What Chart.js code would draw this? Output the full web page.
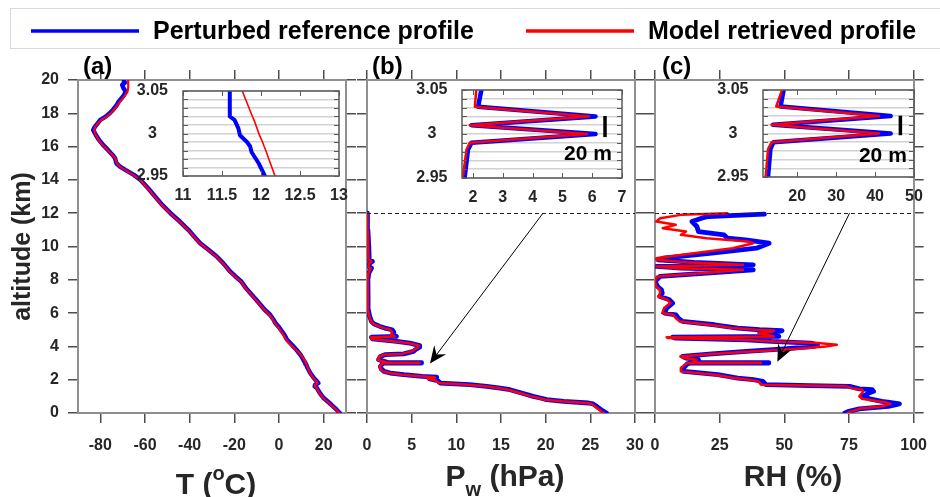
<!DOCTYPE html>
<html><head><meta charset="utf-8">
<script src="https://cdn.jsdelivr.net/npm/chart.js@4.4.1/dist/chart.umd.min.js"></script>
<style>
html,body{margin:0;padding:0;background:#fff;}
#wrap{position:relative;width:940px;height:497px;overflow:hidden;background:#fff;}
#wrap canvas{position:absolute;left:0;top:0;}
</style></head><body>
<div id="wrap">
<canvas id="ca" width="940" height="497"></canvas>
<canvas id="cb" width="940" height="497"></canvas>
<canvas id="cc" width="940" height="497"></canvas>
<canvas id="ia" width="940" height="497"></canvas>
<canvas id="ib" width="940" height="497"></canvas>
<canvas id="ic" width="940" height="497"></canvas>
</div>
<script>
// ---------------- data ----------------
const seriesNames = ['Perturbed reference profile', 'Model retrieved profile'];
const altTicks = [0,2,4,6,8,10,12,14,16,18,20];
const tTicks = [-80,-60,-40,-20,0,20];
const pwTicks = [0,5,10,15,20,25,30];
const rhTicks = [0,25,50,75,100];
const insetAltTicks = [2.95,2.96,2.97,2.98,2.99,3.00,3.01,3.02,3.03,3.04,3.05];
const insetAltLabels = ['2.95','3','3.05'];
const insetTTicks = [11,11.5,12,12.5,13];
const insetPwTicks = [2,3,4,5,6,7];
const insetRhTicks = [20,30,40,50];

// temperature (panel a)
const altT = [0,0.2,0.4,0.6,0.9,1.2,1.5,1.6,1.7,1.8,1.9,2.1,2.4,2.7,2.95,2.965,2.978,2.985,2.99,2.998,3.006,3.016,3.02,3.05,3.2,3.5,3.8,4.0,4.2,4.4,4.7,5.0,5.2,5.4,5.6,5.9,6.2,6.5,6.8,7.1,7.5,7.9,8.2,8.5,9.0,9.4,9.8,10.2,10.6,11.0,11.5,12.0,12.5,13.0,13.5,14.0,14.3,14.6,14.8,15.0,15.3,15.5,15.8,16.1,16.4,16.7,17.0,17.2,17.4,17.6,17.8,18.0,18.2,18.5,18.7,18.9,19.1,19.3,19.5,19.7,19.85,20.0];
const tRef = [27.2,25.8,24.2,22.6,20.0,18.3,17.0,16.0,16.2,17.6,17.0,15.6,14.0,12.8,12.05,11.97,11.88,11.86,11.82,11.73,11.71,11.66,11.6,11.6,10.9,9.6,7.8,6.4,5.0,3.6,2.4,0.8,-0.3,-1.6,-2.4,-4.0,-6.4,-8.3,-10.2,-12.2,-14.8,-16.9,-19.5,-21.9,-25.0,-27.9,-31.6,-35.3,-38.0,-40.6,-44.4,-48.6,-52.3,-55.5,-58.6,-62.0,-65.0,-68.8,-71.2,-72.8,-73.4,-74.5,-76.6,-78.8,-80.6,-82.0,-83.2,-82.4,-81.2,-80.0,-77.6,-75.8,-74.4,-72.6,-71.8,-70.5,-69.4,-68.6,-69.6,-70.2,-69.0,-69.4];
const tRet = [27.0,25.6,24.0,22.4,19.8,18.1,16.9,16.0,16.1,17.3,16.8,15.4,13.9,12.9,12.18,12.12,12.07,12.04,12.02,11.98,11.95,11.91,11.89,11.76,11.2,9.7,7.6,6.0,4.5,3.2,2.0,0.4,-0.6,-1.8,-2.7,-4.3,-6.6,-8.5,-10.4,-12.4,-15.0,-17.1,-19.7,-22.1,-25.2,-28.1,-31.8,-35.5,-38.2,-40.8,-44.6,-48.8,-52.5,-55.7,-58.8,-62.2,-65.3,-69.0,-71.3,-72.6,-73.3,-74.6,-76.8,-79.0,-80.8,-82.0,-82.8,-82.2,-81.0,-79.6,-77.2,-75.4,-74.0,-72.3,-71.2,-70.0,-68.8,-67.8,-67.6,-67.5,-67.5,-67.6];

// water vapour pressure (panel b)
const altPw = [0,0.2,0.4,0.55,0.6,0.7,0.8,0.9,1.0,1.2,1.4,1.5,1.6,1.7,1.8,1.95,2.05,2.15,2.2,2.3,2.4,2.5,2.65,2.8,2.951,2.982,2.99,3.0,3.01,3.02,3.031,3.05,3.2,3.4,3.5,3.55,3.7,3.8,3.95,4.05,4.2,4.3,4.45,4.55,4.6,4.7,4.85,5.0,5.1,5.2,5.35,5.5,5.8,6.2,7.0,8.0,8.4,8.7,8.8,9.0,9.1,9.2,10.0,11.0,12.0];
const pwRef = [26.8,26.2,25.7,25.3,24.8,22.0,20.1,19.4,18.6,17.3,16.0,14.9,13.4,11.5,8.2,7.9,7.0,7.8,6.2,4.1,2.6,1.9,1.6,1.5,1.72,1.83,1.95,6.11,1.95,6.11,2.17,2.28,1.3,1.5,2.0,4.1,5.2,5.4,5.9,5.9,4.8,3.3,0.6,0.5,3.3,2.9,3.0,2.8,2.0,1.45,0.8,0.5,0.3,0.15,0.12,0.1,0.2,0.5,0.2,0.3,0.6,0.25,0.2,0.1,0.05];
const pwRet = [26.5,26.0,25.5,25.1,24.5,21.8,19.9,19.2,18.4,17.1,15.8,14.7,13.2,11.3,8.0,7.7,6.8,7.6,6.0,3.9,2.5,1.8,1.5,1.4,1.66,1.78,1.89,5.83,1.89,5.89,2.06,2.11,1.2,1.4,1.9,3.9,5.0,5.3,5.7,5.8,4.6,3.1,0.5,0.4,3.1,2.7,2.8,2.6,1.9,1.35,0.7,0.45,0.25,0.1,0.1,0.08,0.15,0.4,0.15,0.25,0.5,0.2,0.15,0.08,0.05];

// relative humidity (panel c)
const altRHRef = [0,0.1,0.25,0.4,0.55,0.65,0.7,0.85,1.0,1.2,1.3,1.4,1.45,1.6,1.65,1.7,1.9,2.0,2.1,2.3,2.5,2.7,2.951,2.982,2.99,3.0,3.01,3.02,3.031,3.05,3.1,3.2,3.3,3.4,3.55,3.7,3.85,4.0,4.1,4.2,4.3,4.4,4.5,4.55,4.6,4.7,4.8,4.9,4.95,5.0,5.1,5.3,5.5,5.7,5.9,6.0,6.3,6.6,6.8,7.0,7.2,7.4,7.6,7.9,8.2,8.4,8.6,8.7,8.8,8.9,9.05,9.2,9.3,9.6,9.9,10.2,10.4,10.5,10.7,10.9,11.2,11.5,11.7,11.8,11.9,11.95];
const rhRef = [73.4,75,79,90.2,94.5,90,87.7,83,80.2,82.7,84.5,84,79,75.2,60,42.9,41.7,38,32,24.3,11.2,11.0,12.5,13.1,13.9,44,13.8,44,15.7,16.5,15.5,16.8,12,10.6,22,35.4,50,61.6,62.8,60.3,45,35.4,8,6.8,47.9,44,41.7,48,49.1,40.4,32,23,10.6,9,8.1,3.7,4.5,6.8,5.6,1.9,2.8,2.5,1.0,0,1.9,20,38,10,0.6,38,15,1.2,3.1,22,39.2,44.1,35,28,26.7,16.8,16.2,14.3,18,20.5,35.4,42.3];
const altRHRet = [0,0.1,0.25,0.4,0.55,0.65,0.7,0.85,1.0,1.2,1.3,1.4,1.45,1.6,1.65,1.7,1.9,2.0,2.1,2.3,2.5,2.7,2.951,2.982,2.99,3.0,3.01,3.02,3.031,3.05,3.1,3.2,3.3,3.4,3.55,3.7,3.85,4.0,4.1,4.2,4.3,4.4,4.5,4.55,4.6,4.7,4.8,4.9,4.95,5.0,5.1,5.3,5.5,5.7,5.9,6.0,6.3,6.6,6.8,7.0,7.2,7.4,7.6,7.9,8.2,8.4,8.6,8.7,8.8,8.9,9.05,9.2,9.3,9.6,9.9,10.2,10.3,10.5,10.7,10.9,11.1,11.3,11.5,11.7,11.9,12.0];
const rhRet = [74.5,76,79,88,91,89,86,80,79,80,80.5,80,77,74,58,41,40,36.5,30.5,23.0,10.0,10.0,11.9,12.5,13.4,41,13.4,41,14.6,16.1,15,16,11,9.8,22,37,54,66,70.3,63,46,34,5,4.5,46,43,40,45.5,46,39,30,21,9.5,8,7,2.8,3.5,6,4.8,1.2,2.0,1.8,0.5,0,0.8,18,34,8,0.5,34,12,0.5,0.5,15,30,38,36,20,10,12,3,8,0.5,2,10,28];

// annotations (data coordinates)
const dashedAlt = 12;
const arrowB = {x1:19.7, y1:12, x2:7.05, y2:2.98};
const arrowC = {x1:75.2, y1:12, x2:47.3, y2:3.08};
const barB = {x:6.43, y1:3.0205, y2:2.9965, tx:5.86, ty:2.977};
const barC = {x:46.5, y1:3.0205, y2:2.998, tx:42.0, ty:2.974};

// ---------------- style ----------------
const W = 940, H = 497;
const FF = "'Liberation Sans', Arial, Helvetica, sans-serif";
const BLUE = '#0000ff', RED = '#ff0000';
const AX_COLOR = '#8f8f8f', TICK_COLOR = '#4d4d4d', TEXT_COLOR = '#262626';

function fixTicks(vals){ return s => { s.ticks = vals.map(v => ({value: v})); }; }
function ds(alts, vals, color, width){
  return {data: alts.map((a,i) => ({x: vals[i], y: a})), showLine: true, borderColor: color, backgroundColor: color,
    borderWidth: width, pointRadius: 0, pointHoverRadius: 0, tension: 0, fill: false,
    borderJoinStyle: 'round', borderCapStyle: 'round'};
}
// Chart.js paints dataset 0 last (on top): list the retrieved (red) profile first
function pair(altR, ref, altM, ret, wb, wr){ return [ds(altM, ret, RED, wr), ds(altR, ref, BLUE, wb)]; }
const tickFont = () => ({family: FF, size: 16, weight: 'bold'});
const gridOpt = () => ({display: true, drawOnChartArea: false, drawTicks: true, tickLength: 10, color: TICK_COLOR, lineWidth: 1.5});
const borderOpt = () => ({display: true, color: AX_COLOR, width: 2});

function mainScales(p){
  const a = p.area;
  return {
    x: {type:'linear', position:'bottom', min:p.xmin, max:p.xmax, afterBuildTicks: fixTicks(p.xticks),
        afterFit: s => { s.height = H - a.b; },
        ticks: {font: tickFont(), color: TEXT_COLOR, padding: 13, maxRotation: 0, autoSkip: false, callback: v => String(v)},
        grid: gridOpt(), border: borderOpt()},
    x2: {type:'linear', position:'top', min:p.xmin, max:p.xmax, afterBuildTicks: fixTicks(p.xticks),
        afterFit: s => { s.height = 15; }, ticks: {display: false}, grid: gridOpt(), border: borderOpt()},
    y: {type:'linear', position:'left', min:0, max:20, afterBuildTicks: fixTicks(altTicks),
        afterFit: s => { s.width = p.showY ? a.l : 15; },
        ticks: {display: p.showY, font: tickFont(), color: TEXT_COLOR, padding: 9, callback: v => String(v)},
        grid: gridOpt(), border: borderOpt(),
        title: {display: p.showY, text: 'altitude (km)', color: TEXT_COLOR, font: {family: FF, size: 25, weight: 'bold'}, padding: {top: 8, bottom: 0}}},
    y2: {type:'linear', position:'right', min:0, max:20, afterBuildTicks: fixTicks(altTicks),
        afterFit: s => { s.width = 15; }, ticks: {display: false}, grid: gridOpt(), border: borderOpt()}
  };
}
function mainPadding(a, showY){
  return {left: showY ? 0 : a.l - 15, right: W - a.r - 15, top: a.t - 15, bottom: 0};
}

function drawPieces(ctx, pieces, cx, baseline){
  let total = 0;
  pieces.forEach(p => { ctx.font = 'bold ' + p.size + 'px ' + FF; p.w = ctx.measureText(p.t).width; total += p.w; });
  let x = cx - total/2;
  ctx.fillStyle = TEXT_COLOR; ctx.textAlign = 'left'; ctx.textBaseline = 'alphabetic';
  pieces.forEach(p => { ctx.font = 'bold ' + p.size + 'px ' + FF; ctx.fillText(p.t, x, baseline + p.dy); x += p.w; });
}
function panelLabel(ctx, text, x){
  ctx.font = 'bold 24px ' + FF; ctx.fillStyle = '#000'; ctx.textAlign = 'left'; ctx.textBaseline = 'alphabetic';
  ctx.fillText(text, x, 74);
}
function arrow(ctx, x1, y1, x2, y2){
  ctx.strokeStyle = '#000'; ctx.lineWidth = 1; ctx.setLineDash([]);
  const ang = Math.atan2(y2 - y1, x2 - x1), L = 17, Wd = 7.5, N = 11;
  const ca = Math.cos(ang), sa = Math.sin(ang);
  ctx.beginPath(); ctx.moveTo(x1, y1); ctx.lineTo(x2 - N*ca, y2 - N*sa); ctx.stroke();
  const bx = x2 - L*ca, by = y2 - L*sa, px = -sa, py = ca;
  ctx.fillStyle = '#000'; ctx.beginPath();
  ctx.moveTo(x2, y2); ctx.lineTo(bx + Wd*px, by + Wd*py); ctx.lineTo(x2 - N*ca, y2 - N*sa); ctx.lineTo(bx - Wd*px, by - Wd*py);
  ctx.closePath(); ctx.fill();
}
function dashed(chart){
  const {ctx, scales:{x, y}} = chart; const py = Math.round(y.getPixelForValue(dashedAlt)) + 0.5;
  ctx.save(); ctx.strokeStyle = '#222'; ctx.lineWidth = 1.2; ctx.setLineDash([4,3]);
  ctx.beginPath(); ctx.moveTo(x.left, py); ctx.lineTo(x.right, py); ctx.stroke(); ctx.restore();
}
function arrowData(chart, a){
  const {ctx, scales:{x, y}} = chart;
  ctx.save(); arrow(ctx, x.getPixelForValue(a.x1), y.getPixelForValue(a.y1), x.getPixelForValue(a.x2), y.getPixelForValue(a.y2)); ctx.restore();
}

const decoA = {id:'decoA', afterDraw(chart){
  const ctx = chart.ctx; ctx.save();
  // legend
  ctx.strokeStyle = '#d9d9d9'; ctx.lineWidth = 1; ctx.strokeRect(10.5, 8.5, 940, 40);
  ctx.lineWidth = 3.5; ctx.lineCap = 'butt';
  ctx.strokeStyle = BLUE; ctx.beginPath(); ctx.moveTo(31, 31); ctx.lineTo(139, 31); ctx.stroke();
  ctx.strokeStyle = RED; ctx.beginPath(); ctx.moveTo(526, 31); ctx.lineTo(634, 31); ctx.stroke();
  ctx.font = 'bold 25px ' + FF; ctx.fillStyle = '#000'; ctx.textBaseline = 'alphabetic'; ctx.textAlign = 'left';
  ctx.fillText(seriesNames[0], 153, 39);
  ctx.fillText(seriesNames[1], 648, 39);
  panelLabel(ctx, '(a)', 83);
  drawPieces(ctx, [{t:'T (', size:30, dy:0}, {t:'o', size:20, dy:-14}, {t:'C)', size:30, dy:0}], 216, 494);
  ctx.restore();
}};
const decoB = {id:'decoB', afterDraw(chart){
  const ctx = chart.ctx; ctx.save();
  dashed(chart); arrowData(chart, arrowB);
  panelLabel(ctx, '(b)', 372);
  drawPieces(ctx, [{t:'P', size:30, dy:0}, {t:'w', size:20, dy:10}, {t:' (hPa)', size:30, dy:0}], 505, 486);
  ctx.restore();
}};
const decoC = {id:'decoC', afterDraw(chart){
  const ctx = chart.ctx; ctx.save();
  dashed(chart); arrowData(chart, arrowC);
  panelLabel(ctx, '(c)', 662);
  drawPieces(ctx, [{t:'RH (%)', size:30, dy:0}], 793, 486);
  ctx.restore();
}};

function baseOptions(padding, scales){
  return {responsive:false, maintainAspectRatio:false, animation:false, devicePixelRatio:1, events:[],
    layout:{padding}, scales, plugins:{legend:{display:false}, tooltip:{enabled:false}}};
}

const areaA = {l:78, r:346, t:80, b:413};
const areaB = {l:367, r:635, t:80, b:413};
const areaC = {l:655, r:923, t:80, b:413};

new Chart(document.getElementById('ca'), {type:'scatter',
  data:{datasets: pair(altT, tRef, altT, tRet, 4.5, 2.2)},
  options: baseOptions(mainPadding(areaA, true), mainScales({xmin:-90, xmax:30, xticks:tTicks, showY:true, area:areaA})),
  plugins:[decoA]});
new Chart(document.getElementById('cb'), {type:'scatter',
  data:{datasets: pair(altPw, pwRef, altPw, pwRet, 4.8, 2.5)},
  options: baseOptions(mainPadding(areaB, false), mainScales({xmin:0, xmax:30, xticks:pwTicks, showY:false, area:areaB})),
  plugins:[decoB]});
new Chart(document.getElementById('cc'), {type:'scatter',
  data:{datasets: pair(altRHRef, rhRef, altRHRet, rhRet, 4.8, 2.5)},
  options: baseOptions(mainPadding(areaC, false), mainScales({xmin:0, xmax:100, xticks:rhTicks, showY:false, area:areaC})),
  plugins:[decoC]});

// ---------------- insets ----------------
function insetLabel(v){
  const m = insetAltLabels.find(l => Math.abs(parseFloat(l) - v) < 1e-6);
  return m === undefined ? '' : m;
}
function insetScales(q){
  return {
    x: {type:'linear', position:'bottom', min:q.xmin, max:q.xmax, afterBuildTicks: fixTicks(q.xticks),
        afterFit: s => { s.height = 40; },
        ticks: {font: tickFont(), color: TEXT_COLOR, padding: q.xpad, maxRotation: 0, autoSkip: false, callback: v => String(v)},
        grid: {display: false, drawTicks: false}, border: {display: false}},
    y: {type:'linear', position:'left', min:2.95, max:3.05, afterBuildTicks: fixTicks(insetAltTicks),
        afterFit: s => { s.width = 60; },
        ticks: {font: tickFont(), color: TEXT_COLOR, padding: q.ypad, crossAlign: 'center', autoSkip: false, callback: v => insetLabel(v)},
        grid: {display: true, drawOnChartArea: true, drawTicks: false, color: '#d2d2d2', lineWidth: 1.5}, border: {display: false}}
  };
}
function insetPadding(a){ return {left: a.l - 60, right: W - a.r, top: a.t, bottom: H - a.b - 40}; }
function insetDeco(bar){
  return {id:'insetDeco', afterDraw(chart){
    const {ctx, chartArea: c, scales:{x, y}} = chart; ctx.save();
    ctx.strokeStyle = '#5a5a5a'; ctx.lineWidth = 1.5; ctx.setLineDash([]);
    ctx.strokeRect(c.left, c.top, c.right - c.left, c.bottom - c.top);
    ctx.lineWidth = 1;
    ctx.beginPath();
    y.ticks.forEach(t => { const py = Math.round(y.getPixelForValue(t.value)) + 0.5;
      ctx.moveTo(c.left, py); ctx.lineTo(c.left + 5, py); ctx.moveTo(c.right - 5, py); ctx.lineTo(c.right, py); });
    x.ticks.forEach(t => { const px = Math.round(x.getPixelForValue(t.value)) + 0.5;
      ctx.moveTo(px, c.bottom); ctx.lineTo(px, c.bottom - 5); ctx.moveTo(px, c.top); ctx.lineTo(px, c.top + 5); });
    ctx.stroke();
    if (bar){
      ctx.strokeStyle = '#000'; ctx.lineWidth = 3.5; ctx.beginPath();
      const bx = x.getPixelForValue(bar.x);
      ctx.moveTo(bx, y.getPixelForValue(bar.y1)); ctx.lineTo(bx, y.getPixelForValue(bar.y2)); ctx.stroke();
      ctx.font = 'bold 21px ' + FF; ctx.fillStyle = '#000'; ctx.textAlign = 'center'; ctx.textBaseline = 'middle';
      ctx.fillText('20 m', x.getPixelForValue(bar.tx), y.getPixelForValue(bar.ty));
    }
    ctx.restore();
  }};
}
const iareaA = {l:183, r:339, t:91, b:176};
const iareaB = {l:462, r:622, t:90, b:178};
const iareaC = {l:763, r:914, t:90, b:177};

new Chart(document.getElementById('ia'), {type:'scatter',
  data:{datasets: pair(altT, tRef, altT, tRet, 4, 1.6)},
  options: baseOptions(insetPadding(iareaA), insetScales({xmin:11, xmax:13, xticks:insetTTicks, xpad:10, ypad:15})),
  plugins:[insetDeco(null)]});
new Chart(document.getElementById('ib'), {type:'scatter',
  data:{datasets: pair(altPw, pwRef, altPw, pwRet, 4.5, 2.5)},
  options: baseOptions(insetPadding(iareaB), insetScales({xmin:1.63, xmax:7, xticks:insetPwTicks, xpad:10, ypad:14.5})),
  plugins:[insetDeco(barB)]});
new Chart(document.getElementById('ic'), {type:'scatter',
  data:{datasets: pair(altRHRef, rhRef, altRHRet, rhRet, 4.5, 2.5)},
  options: baseOptions(insetPadding(iareaC), insetScales({xmin:11.2, xmax:50, xticks:insetRhTicks, xpad:10, ypad:14.5})),
  plugins:[insetDeco(barC)]});
</script>
</body></html>
